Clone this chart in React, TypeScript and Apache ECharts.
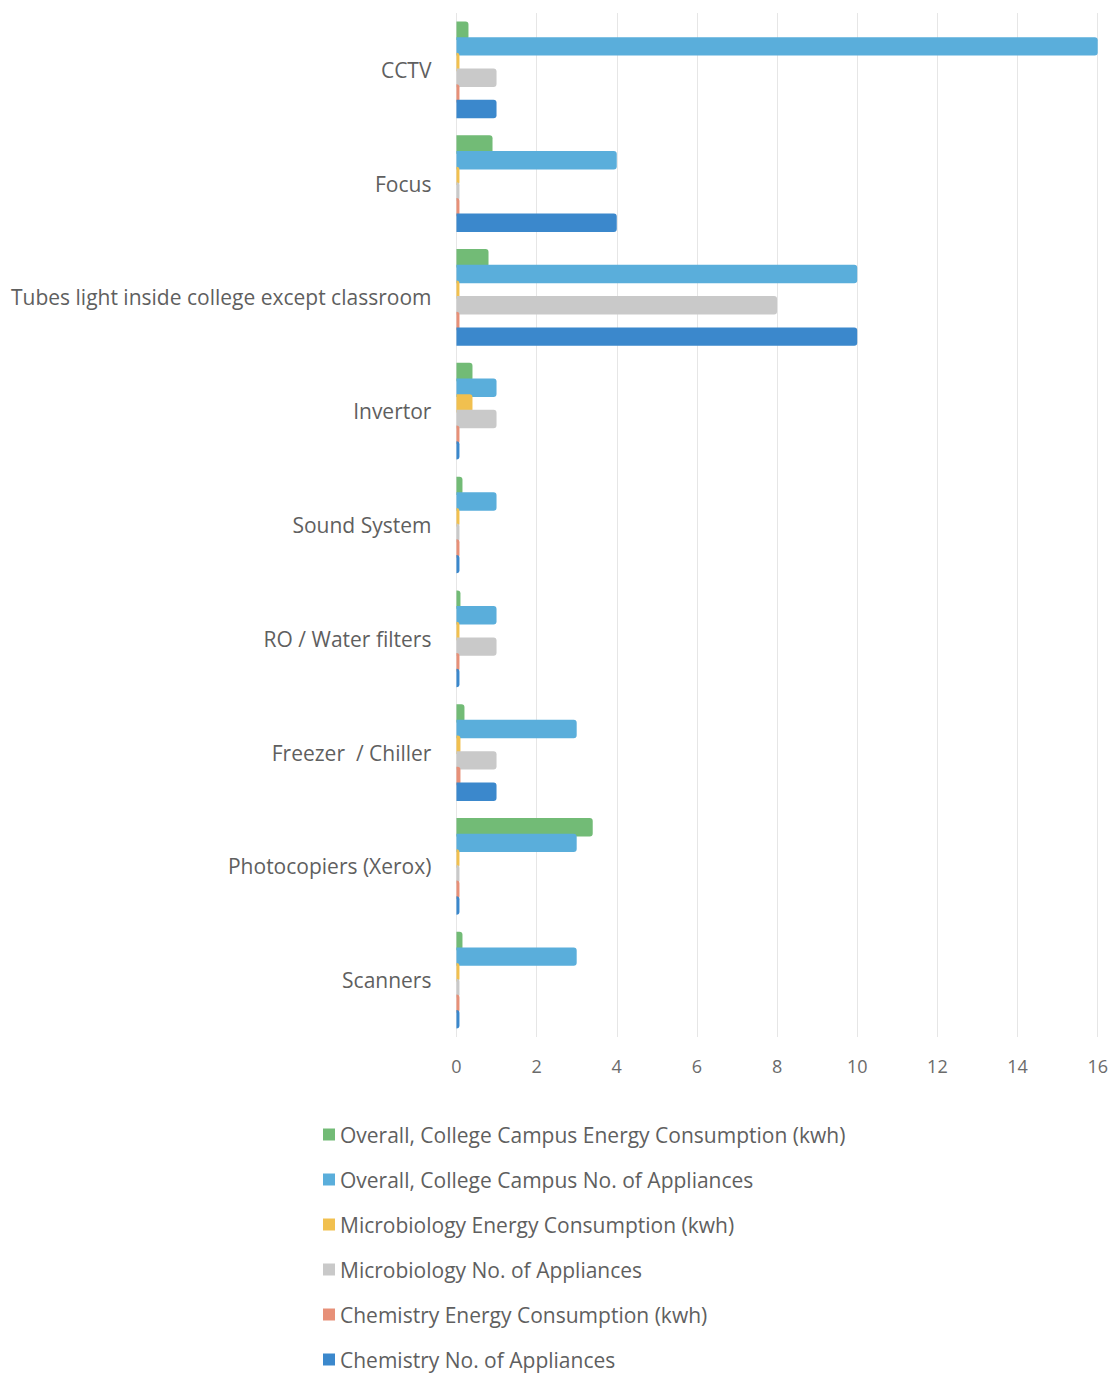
import React, { useEffect, useRef } from "react";
import * as echarts from "echarts";

const categories = [
  "CCTV",
  "Focus",
  "Tubes light inside college except classroom",
  "Invertor",
  "Sound System",
  "RO / Water filters",
  "Freezer  / Chiller",
  "Photocopiers (Xerox)",
  "Scanners",
];

const seriesNames = [
  "Overall, College Campus Energy Consumption (kwh)",
  "Overall, College Campus No. of Appliances",
  "Microbiology Energy Consumption (kwh)",
  "Microbiology No. of Appliances",
  "Chemistry Energy Consumption (kwh)",
  "Chemistry No. of Appliances",
];

const overallEnergy = [0.3, 0.9, 0.8, 0.4, 0.15, 0.1, 0.2, 3.4, 0.15];
const overallCount = [16, 4, 10, 1, 1, 1, 3, 3, 3];
const microEnergy = [0, 0, 0, 0.4, 0, 0, 0.1, 0, 0];
const microCount = [1, 0, 8, 1, 0, 1, 1, 0, 0];
const chemEnergy = [0, 0, 0, 0, 0, 0, 0.1, 0, 0];
const chemCount = [1, 4, 10, 0, 0, 0, 1, 0, 0];

const xTicks = [0, 2, 4, 6, 8, 10, 12, 14, 16];

const colors = ["#72bb76", "#5aaedb", "#f1c04f", "#c9c9c9", "#e79078", "#3b88cc"];

const allData = [overallEnergy, overallCount, microEnergy, microCount, chemEnergy, chemCount];

const FONT = "Open Sans";

export default function App() {
  const ref = useRef<HTMLDivElement>(null);
  useEffect(() => {
    if (!ref.current) return;
    const chart = echarts.init(ref.current, undefined, { renderer: "svg" });
    chart.setOption({
      animation: false,
      color: colors,
      textStyle: { fontFamily: FONT },
      grid: { left: 447, right: 11, top: 5, bottom: 337, containLabel: false },
      xAxis: {
        type: "value",
        min: xTicks[0],
        max: xTicks[xTicks.length - 1],
        interval: 2,
        axisLine: { show: false },
        axisTick: { show: false },
        splitLine: { show: true, lineStyle: { color: "#e6e6e6", width: 1 } },
        axisLabel: { color: "#6b6b6b", fontSize: 18, fontFamily: FONT, margin: 20 },
      },
      yAxis: {
        type: "category",
        data: categories,
        inverse: true,
        axisLine: { show: false },
        axisTick: { show: false },
        axisLabel: { color: "#5f5f5f", fontSize: 21, fontFamily: FONT, margin: 25 },
      },
      legend: {
        orient: "vertical",
        left: 310,
        top: 1108,
        height: 300,
        itemWidth: 12,
        itemHeight: 12,
        itemGap: 18,
        icon: "rect",
        textStyle: { color: "#5f5f5f", fontSize: 21, fontFamily: FONT, lineHeight: 27 },
        data: seriesNames,
      },
      series: seriesNames.map((name, i) => ({
        name,
        type: "bar",
        data: allData[i],
        barGap: "-15%",
        barCategoryGap: "15%",
        barMinHeight: 3,
        itemStyle: { color: colors[i], borderRadius: [0, 3, 3, 0] },
      })),
    });
    return () => chart.dispose();
  }, []);
  return <div ref={ref} style={{ width: 1103, height: 1366 }} />;
}
